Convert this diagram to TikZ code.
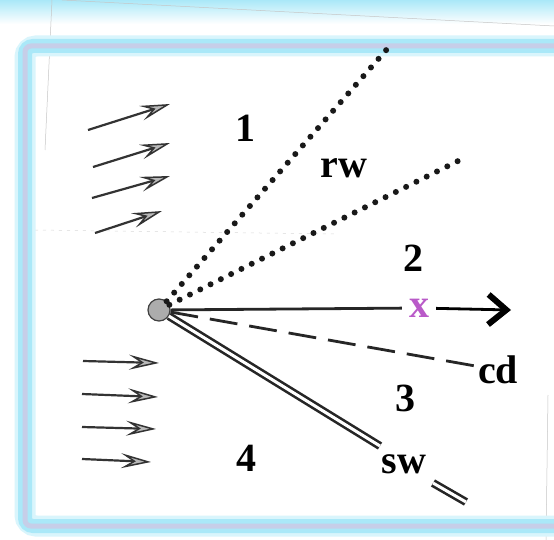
\documentclass[tikz,border=0pt]{standalone}
\usepackage{fontspec}
\setmainfont{Liberation Serif}
\usetikzlibrary{arrows.meta}
\definecolor{glow}{RGB}{170,232,248}
\definecolor{lav}{RGB}{198,206,232}
\definecolor{xpurple}{RGB}{185,90,200}
\begin{document}
\begin{tikzpicture}[x=1pt,y=-1pt,
  lab/.style={font=\fontsize{40}{40}\selectfont\bfseries, inner sep=0pt},
  xlab/.style={font=\fontsize{40}{40}\selectfont\bfseries, text=xpurple, inner sep=7pt},
  dotline/.style={line width=6pt, line cap=round, dash pattern=on 0pt off 11.5pt, black!90},
  solidline/.style={line width=2.8pt, black!85},
  dashline/.style={line width=2.8pt, dash pattern=on 28pt off 12pt, black!85},
  dblline/.style={line width=2.6pt, double=white, double distance=3pt, black!85},
  wind/.style={line width=2.2pt, black!80, -{Stealth[length=30pt, width=15pt, inset=12pt, fill=gray!55, line width=1.5pt]}},
  faint/.style={line width=0.5pt, gray!45}
]
\useasboundingbox (0,0) rectangle (554,540);
\fill[white] (0,0) rectangle (554,540);
\shade[top color=glow, bottom color=white] (0,0) rectangle (554,24);
% scan artefacts
\draw[faint] (62,0) -- (554,26);
\draw[faint] (52,0) -- (45,150);
\draw[faint] (548,395) -- (546,540);
\draw[faint, gray!30, dash pattern=on 3pt off 5pt] (35,230) -- (335,234);
% frame
\draw[glow!45, line width=21pt, rounded corners=11pt] (25,46) rectangle (600,526);
\draw[glow, line width=14pt, rounded corners=8pt] (25,46) rectangle (600,526);
\draw[lav, line width=5pt, rounded corners=6pt] (25,46) rectangle (600,526);

% vertex
\node[circle, fill=gray!65, draw=black!75, line width=1.2pt, minimum size=22pt, inner sep=0pt] (v) at (159,310) {};

% labels
\node[lab] (n1) at (245,128) {1};
\node[lab] (rw) at (344,168) {rw};
\node[lab] (n2) at (413,258) {2};
\node[lab] (n3) at (405,398) {3};
\node[lab] (n4) at (246,458) {4};
\node[lab] (cd) at (498,370) {cd};
\node[lab] (sw) at (404,464) {sw};
\node[xlab] (x) at (419,308) {x};

% endpoints
\coordinate (rwA) at (388,48);
\coordinate (rwB) at (462,159);
\coordinate (xa) at (511,310);
\coordinate (swA) at (380,446);
\coordinate (swB) at (433,483);
\coordinate (swC) at (466,502);

% connectors
\draw[dotline] (v) -- (rwA);
\draw[dotline] (v) -- (rwB);
\draw[solidline] (v) -- (x);
\draw[line width=2.8pt, black, -{Straight Barb[length=18pt, width=30pt, line width=6pt]}] (x) -- (xa);
\draw[dashline] (v) -- (cd);
\draw[dblline] (v) -- (swA);
\draw[dblline] (swB) -- (swC);

% wind arrows, upper (inclined)
\coordinate (a1s) at (88,130);  \coordinate (a1e) at (170,104);
\coordinate (a2s) at (93,167);  \coordinate (a2e) at (170,143);
\coordinate (a3s) at (92,198);  \coordinate (a3e) at (170,176);
\coordinate (a4s) at (95,233);  \coordinate (a4e) at (162,211);
\draw[wind] (a1s) -- (a1e);
\draw[wind] (a2s) -- (a2e);
\draw[wind] (a3s) -- (a3e);
\draw[wind] (a4s) -- (a4e);
% wind arrows, lower (horizontal)
\coordinate (b1s) at (83,361);  \coordinate (b1e) at (159,363);
\coordinate (b2s) at (82,394);  \coordinate (b2e) at (158,397);
\coordinate (b3s) at (82,427);  \coordinate (b3e) at (156,429);
\coordinate (b4s) at (82,459);  \coordinate (b4e) at (151,462);
\draw[wind] (b1s) -- (b1e);
\draw[wind] (b2s) -- (b2e);
\draw[wind] (b3s) -- (b3e);
\draw[wind] (b4s) -- (b4e);
\end{tikzpicture}
\end{document}
